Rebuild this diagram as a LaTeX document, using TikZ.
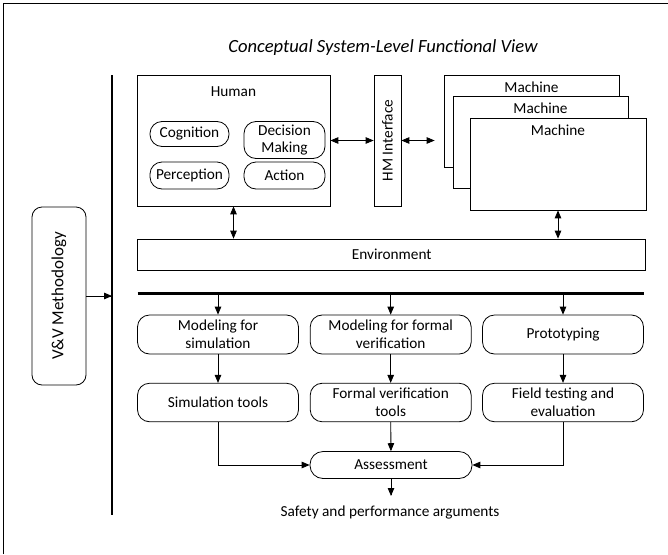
\documentclass[tikz,border=0pt]{standalone}
\usepackage{fontspec}
\setmainfont{Carlito}
\usetikzlibrary{shapes,arrows,positioning,calc}

\begin{document}
\begin{tikzpicture}[x=1pt, y=-1pt, font=\fontsize{15.3}{18}\selectfont, line width=0.8pt, >=triangle 45]
\tikzstyle{box} = [rectangle, draw, fill=white, text centered, inner sep=0pt]
\tikzstyle{pill} = [rectangle, draw, text centered, align=center, rounded corners=12pt, inner sep=0pt]
\tikzstyle{step box} = [rectangle, draw, text centered, align=center, rounded corners=12pt, minimum width=161pt, minimum height=39pt, inner sep=0pt]
\tikzstyle{bar} = [line width=2.5pt]

\useasboundingbox (0,0) rectangle (668,554);

% Frame of the figure
\draw (3.5,554) -- (3.5,3) -- (668,3);

% Title
\node [font=\fontsize{18.6}{22}\selectfont\itshape] (title) at (383,47.5) {Conceptual System-Level Functional View};

% Human with its functions
\node [box, minimum width=193pt, minimum height=131pt] (human) at (233.5,140.5) {};
\node [below=8pt of human.north, anchor=north] (humanTitle) {Human};
\node [pill, minimum width=79pt, minimum height=25pt] (cognition) at (189.5,134) {Cognition};
\node [pill, minimum width=81pt, minimum height=37pt] (decision) at (284.5,140) {Decision\\[-1pt]Making};
\node [pill, minimum width=79pt, minimum height=27pt] (perception) at (189.5,175.5) {Perception};
\node [pill, minimum width=81pt, minimum height=27pt] (action) at (284.5,175.5) {Action};

% HM interface
\node [box, minimum width=27pt, minimum height=131pt] (hmi) at (387.5,140.5) {\rotatebox{90}{HM Interface}};

% Stack of machines
\node [box, minimum width=175pt, minimum height=92pt, label={[anchor=north, yshift=-4pt]north:Machine}] (machineA) at (531.5,121) {};
\node [box, minimum width=175pt, minimum height=92pt, label={[anchor=north, yshift=-4pt]north:Machine}] (machineB) at (540.5,142) {};
\node [box, minimum width=176pt, minimum height=92pt, label={[anchor=north, yshift=-4pt]north:Machine}] (machineC) at (558,164) {};

% Environment
\node [box, minimum width=508pt, minimum height=31pt] (environment) at (391.7,254.5) {Environment};

\draw [<->] (human.east) -- (hmi.west);
\draw [<->, shorten >=9pt] (hmi.east) -- (hmi.east -| machineA.west);
\draw [<->] (human.south) -- (human.south |- environment.north);
\draw [<->] (machineC.south) -- (machineC.south |- environment.north);

% V&V methodology and bars
\coordinate (vbarTop) at (112,75);
\coordinate (vbarBot) at (112,515);
\coordinate (hbarL) at (137.5,293.3);
\coordinate (hbarR) at (644,293.3);
\draw [bar] (vbarTop) -- (vbarBot);
\draw [bar] (hbarL) -- (hbarR);
\node [pill, rounded corners=10pt, minimum width=54pt, minimum height=178pt] (methodology) at (59,296) {\rotatebox{90}{\fontsize{17}{20}\selectfont V\&V Methodology}};
\draw [->] (methodology.east) -- (methodology.east -| vbarTop);

% Modeling steps
\node [step box] (simModel) at (218,334.5) {Modeling for\\simulation};
\node [step box] (formalModel) at (390.7,334.5) {Modeling for formal\\verification};
\node [step box] (prototyping) at (563,334.5) {Prototyping};

\node [step box, minimum height=38.5pt] (simTools) at (218,402.5) {Simulation tools};
\node [step box, minimum height=38.5pt] (formalTools) at (390.7,402.5) {Formal verification\\tools};
\node [step box, minimum height=38.5pt] (fieldTesting) at (563,402.5) {Field testing and\\evaluation};

\foreach \n in {simModel,formalModel,prototyping}
  \draw [->] (\n.north |- hbarL) -- (\n.north);
\draw [->] (simModel) -- (simTools);
\draw [->] (formalModel) -- (formalTools);
\draw [->] (prototyping) -- (fieldTesting);

% Assessment
\node [pill, rounded corners=13pt, minimum width=162pt, minimum height=27pt] (assessment) at (391,465) {Assessment};
\node (arguments) at (390,512) {Safety and performance arguments};
\draw [->] (simTools.south) |- (assessment.west);
\draw [->] (fieldTesting.south) |- (assessment.east);
\draw [->] (formalTools) -- (assessment);
\draw [->] (assessment.south) -- ++(0,17);

\end{tikzpicture}
\end{document}
